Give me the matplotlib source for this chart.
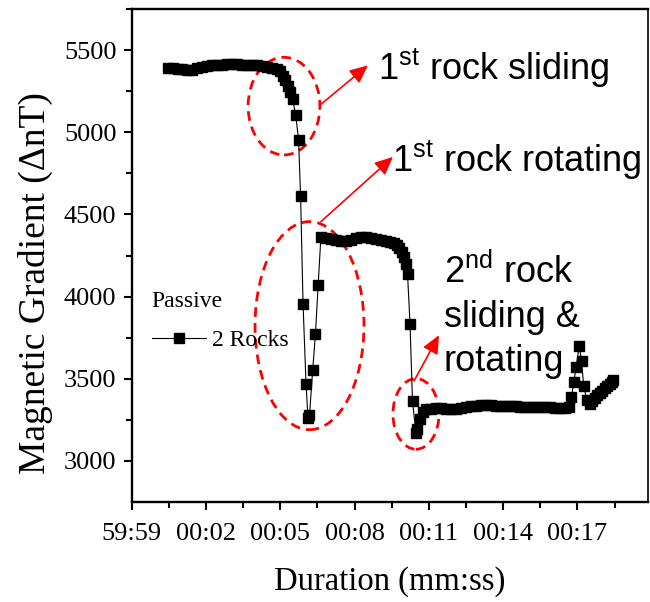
import matplotlib
matplotlib.use("Agg")
import matplotlib.pyplot as plt
from matplotlib.patches import Ellipse

plt.rcParams['mathtext.fontset'] = 'custom'
plt.rcParams['mathtext.rm'] = 'Liberation Sans'
plt.rcParams['mathtext.it'] = 'Liberation Sans:italic'
plt.rcParams['mathtext.bf'] = 'Liberation Sans:bold'

# ---- data (seconds relative to 00:00, magnetic gradient in nT) ----
time_s = [0.46, 0.65, 0.85, 1.05, 1.25, 1.45, 1.65, 1.85, 2.05, 2.25, 2.45, 2.65,
          2.85, 3.05, 3.25, 3.45, 3.65, 3.85, 4.05, 4.25, 4.45, 4.65, 4.85, 5.0,
          5.1, 5.2, 5.3, 5.4, 5.5, 5.62, 5.74, 5.82, 5.92, 6.04, 6.12, 6.18,
          6.31, 6.42, 6.53, 6.64, 6.85, 7.05, 7.25, 7.45, 7.65, 7.85, 8.05, 8.25,
          8.45, 8.65, 8.85, 9.05, 9.25, 9.45, 9.6, 9.7, 9.8, 9.9, 10.0, 10.07,
          10.14, 10.24, 10.34, 10.48, 10.54, 10.64, 10.77, 10.9, 11.1, 11.3, 11.5,
          11.7, 11.9, 12.1, 12.3, 12.5, 12.7, 12.9, 13.1, 13.3, 13.5, 13.7, 13.9,
          14.1, 14.3, 14.5, 14.7, 14.9, 15.1, 15.3, 15.5, 15.7, 15.9, 16.1, 16.3,
          16.5, 16.65, 16.76, 16.85, 16.95, 17.07, 17.17, 17.25, 17.38, 17.5,
          17.6, 17.7, 17.8, 17.9, 18.0, 18.1, 18.2, 18.3, 18.4, 18.45]
gradient_nT = [5392, 5390, 5387, 5383, 5380, 5381, 5388, 5398, 5406, 5410, 5412, 5412,
               5413, 5413, 5413, 5412, 5411, 5410, 5408, 5405, 5400, 5394, 5385, 5370,
               5345, 5315, 5280, 5245, 5200, 5108, 4953, 4613, 3955, 3468, 3262, 3278,
               3555, 3771, 4072, 4362, 4356, 4350, 4345, 4340, 4338, 4345, 4355, 4362,
               4362, 4356, 4348, 4342, 4338, 4333, 4325, 4312, 4295, 4270, 4240, 4200,
               4135, 3832, 3362, 3172, 3195, 3255, 3300, 3315, 3318, 3320, 3320,
               3318, 3317, 3318, 3322, 3328, 3333, 3337, 3339, 3340, 3338, 3335, 3333,
               3332, 3332, 3332, 3331, 3330, 3330, 3329, 3328, 3327, 3326, 3325, 3324,
               3323, 3330, 3387, 3478, 3569, 3700, 3606, 3458, 3370, 3345,
               3365, 3385, 3400, 3415, 3428, 3442, 3455, 3468, 3480, 3490]

xtick_pos = [-1, 2, 5, 8, 11, 14, 17]
xtick_labels = ['59:59', '00:02', '00:05', '00:08', '00:11', '00:14', '00:17']
ytick_pos = [3000, 3500, 4000, 4500, 5000, 5500]

series_label = '2 Rocks'
legend_title = 'Passive'

# ---- figure ----
fig = plt.figure(figsize=(6.5, 6.02), dpi=100)
ax = fig.add_axes([131.7/650, 1-502/602, (648-131.7)/650, (502-9)/602])

ax.plot(time_s, gradient_nT, color='black', lw=0.8, marker='s', ms=7.4,
        mfc='black', mec='black', label=series_label)

ax.set_xlim(-1, 19.85)
ax.set_ylim(2750, 5750)
ax.set_xticks(xtick_pos)
ax.set_xticklabels(xtick_labels)
ax.set_xticks([p + 1.5 for p in xtick_pos], minor=True)
ax.set_yticks(ytick_pos)
ax.set_yticks([p + 250 for p in ytick_pos], minor=True)

serif = 'Liberation Serif'
for lab in ax.get_xticklabels() + ax.get_yticklabels():
    lab.set_fontfamily(serif)
    lab.set_fontsize(19)

ax.tick_params(axis='both', which='major', direction='out', length=6, width=1.5,
               top=False, right=False)
ax.tick_params(axis='y', which='major', pad=5)
ax.tick_params(axis='x', which='major', pad=9)
ax.tick_params(axis='both', which='minor', direction='out', length=4, width=1.5,
               top=False, right=False)
for side in ['left', 'bottom', 'top']:
    ax.spines[side].set_linewidth(1.7)
ax.spines['right'].set_linewidth(1.2)

ax.set_ylabel('Magnetic Gradient (ΔnT)', fontfamily=serif, fontsize=27)
ax.yaxis.set_label_coords(-0.152, 0.445)
ax.set_xlabel('Duration (mm:ss)', fontfamily=serif, fontsize=23.5)
ax.xaxis.set_label_coords(0.5, -0.131)

leg = ax.legend(loc='upper left', bbox_to_anchor=(0.016, 0.452), frameon=False,
                title=legend_title, alignment='left', borderpad=0,
                handlelength=2.3, handletextpad=0.25, labelspacing=0.75,
                prop={'family': serif, 'size': 17})
leg.get_title().set_fontfamily(serif)
leg.get_title().set_fontsize(17)

# ---- annotations ----
red = '#ff0000'
ell_style = dict(fill=False, ec=red, lw=2.0, ls=(0, (3.5, 2.2)))
ax.add_patch(Ellipse((5.15, 5159), 2.9, 594, **ell_style))
ax.add_patch(Ellipse((6.18, 3823), 4.40, 1266, **ell_style))
ax.add_patch(Ellipse((10.48, 3286), 1.86, 430, **ell_style))

arrow = dict(arrowstyle='-|>,head_length=0.55,head_width=0.25', color=red, lw=1.2,
             mutation_scale=20, shrinkA=0, shrinkB=0)
ax.annotate('', xy=(8.54, 5407), xytext=(6.60, 5165), arrowprops=arrow)
ax.annotate('', xy=(9.55, 4850), xytext=(6.64, 4456), arrowprops=arrow)
ax.annotate('', xy=(11.41, 3765), xytext=(10.40, 3486), arrowprops=arrow)

sans = 'Liberation Sans'
tkw = dict(fontfamily=sans, fontsize=26, ha='left', va='baseline')
ax.text(8.94, 5316, r'1$^{\rm st}$ rock sliding', **tkw)
ax.text(9.51, 4759, r'1$^{\rm st}$ rock rotating', **tkw)
ax.text(11.61, 4086, r'2$^{\rm nd}$ rock', **tkw)
ax.text(11.61, 3813, 'sliding &', **tkw)
ax.text(11.61, 3547, 'rotating', **tkw)

fig.savefig('out.png', dpi=100)
